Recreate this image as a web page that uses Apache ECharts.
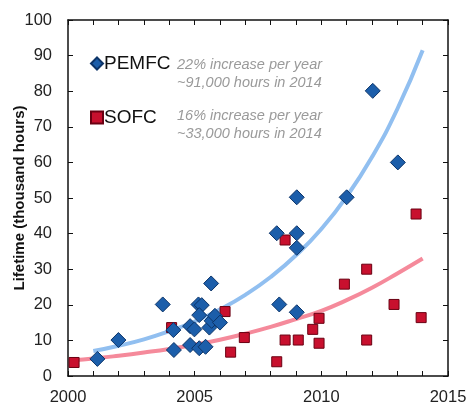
<!DOCTYPE html>
<html><head><meta charset="utf-8">
<script src="https://cdn.jsdelivr.net/npm/echarts@6/dist/echarts.min.js"></script>
<style>html,body{margin:0;padding:0;background:#fff}#c{width:468px;height:403px}</style>
</head><body><div id="c"></div>
<script>
const pemfcYears = [2001.16,2001.99,2003.74,2004.16,2004.18,2004.82,2004.99,2004.82,2005.18,2005.43,2005.15,2005.28,2005.18,2005.65,2005.58,2005.67,2005.80,2006.0,2008.24,2008.34,2009.03,2009.03,2009.03,2009.03,2011.0,2012.03,2013.02];
const pemfcLife  = [4.8,10.1,20.1,12.9,7.3,14.0,13.1,8.7,7.8,8.2,20.1,19.9,17.1,26.0,13.6,15.5,16.9,15.0,40.1,20.1,50.2,40.1,36.0,17.9,50.2,80.1,60.0];
const sofcYears = [2000.24,2004.09,2006.2,2006.42,2006.96,2008.24,2008.57,2008.57,2009.09,2009.66,2009.91,2009.91,2010.91,2011.79,2011.79,2012.87,2013.74,2013.94];
const sofcLife  = [3.8,13.6,18.1,6.7,10.8,4.0,38.2,10.1,10.1,13.1,16.2,9.2,25.8,30.0,10.1,20.1,45.5,16.4];
const pemfcTrendYears = [2001,2002,2003,2004,2005,2006,2007,2008,2009,2010,2011,2012,2013,2014];
const pemfcTrend = [7.0,8.5,10.3,12.6,15.3,18.7,22.8,27.8,33.9,41.3,50.4,61.5,75.0,91.5];
const sofcTrendYears = [2000.2,2001,2002,2003,2004,2005,2006,2007,2008,2009,2010,2011,2012,2013,2014];
const sofcTrend = [4.4,4.9,5.7,6.6,7.6,8.8,10.2,11.9,13.8,16.0,18.3,21.3,24.8,28.8,33.0];
const xTickLabels = ['2000','2005','2010','2015'];
const annotations = ['22% increase per year','~91,000 hours in 2014','16% increase per year','~33,000 hours in 2014'];

const zip = (a,b)=>a.map((v,i)=>[v,b[i]]);
const font = 'Liberation Sans, Arial, Helvetica, sans-serif';
const chart = echarts.init(document.getElementById('c'));
const axisLineStyle = {color:'#111', width:1.5};
const xBase = {type:'value', min:2000, max:2015, interval:1,
  axisLine:{show:true, onZero:false, lineStyle:axisLineStyle},
  axisTick:{show:true, inside:true, length:5, lineStyle:{color:'#111'}},
  splitLine:{show:false}};
const yBase = {type:'value', min:0, max:100, interval:10,
  axisLine:{show:true, onZero:false, lineStyle:axisLineStyle},
  axisTick:{show:true, inside:true, length:5, lineStyle:{color:'#111'}},
  splitLine:{show:false}};
chart.setOption({
  animation:false,
  textStyle:{fontFamily:font},
  grid:{left:68, right:20, top:20, bottom:27, containLabel:false, outerBoundsMode:'none'},
  xAxis:[
    Object.assign({}, xBase, {position:'bottom',
      axisLabel:{show:true, margin:13, color:'#222', fontSize:16.5, fontFamily:font,
        formatter:v=>{const s=String(Math.round(v)); return xTickLabels.includes(s)?s:'';}}}),
    Object.assign({}, xBase, {position:'top', axisLabel:{show:false}})
  ],
  yAxis:[
    Object.assign({}, yBase, {position:'left',
      name:'Lifetime (thousand hours)', nameLocation:'middle', nameGap:41, nameMoveOverlap:false,
      nameTextStyle:{fontSize:15, fontWeight:'bold', color:'#111', fontFamily:font},
      axisLabel:{show:true, margin:16, color:'#222', fontSize:16.5, fontFamily:font}}),
    Object.assign({}, yBase, {position:'right', axisLabel:{show:false}})
  ],
  legend:{
    orient:'vertical', left:85, top:49, itemGap:35, itemWidth:12, itemHeight:12,
    textStyle:{fontSize:19, color:'#111', fontFamily:font, padding:[0,0,0,-4]},
    data:[{name:'PEMFC', icon:'diamond'},{name:'SOFC', icon:'rect'}]
  },
  graphic:[
    {type:'text', left:177, top:57, style:{text:annotations[0], fill:'#9a9a9a', font:'italic 14.5px '+font}},
    {type:'text', left:177, top:75, style:{text:annotations[1], fill:'#9a9a9a', font:'italic 14.5px '+font}},
    {type:'text', left:177, top:108, style:{text:annotations[2], fill:'#9a9a9a', font:'italic 14.5px '+font}},
    {type:'text', left:177, top:126, style:{text:annotations[3], fill:'#9a9a9a', font:'italic 14.5px '+font}}
  ],
  series:[
    {name:'PEMFC trend', type:'line', smooth:true, showSymbol:false, symbol:'none',
      data:zip(pemfcTrendYears,pemfcTrend), lineStyle:{color:'#91bff0', width:4}, z:1},
    {name:'SOFC trend', type:'line', smooth:true, showSymbol:false, symbol:'none',
      data:zip(sofcTrendYears,sofcTrend), lineStyle:{color:'#f58a9b', width:4}, z:1},
    {name:'PEMFC', type:'scatter', symbol:'diamond', symbolSize:15,
      data:zip(pemfcYears,pemfcLife),
      itemStyle:{color:'#1c5eaa', borderColor:'#0c3468', borderWidth:1, opacity:1}, z:3},
    {name:'SOFC', type:'scatter', symbol:'rect', symbolSize:10,
      data:zip(sofcYears,sofcLife),
      itemStyle:{color:'#c8102e', borderColor:'#6a0012', borderWidth:1, opacity:1}, z:2}
  ]
});
</script></body></html>
